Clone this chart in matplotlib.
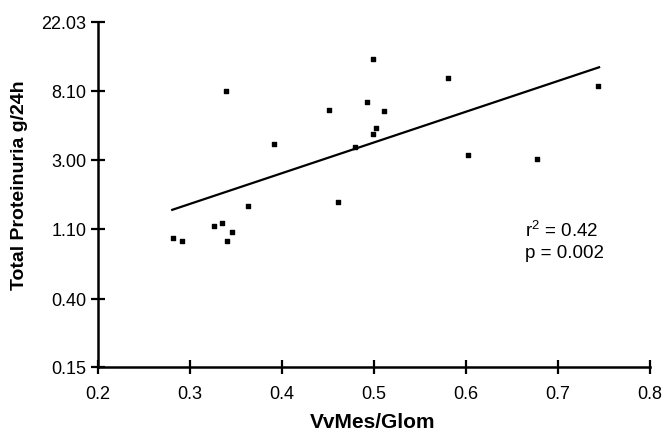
import matplotlib
matplotlib.use("Agg")
import matplotlib.pyplot as plt
from matplotlib.ticker import NullLocator

# ---------------------------------------------------------------------------
# Data
# ---------------------------------------------------------------------------
vv_mes = [0.282, 0.292, 0.326, 0.335, 0.341, 0.346, 0.363, 0.339, 0.392, 0.451,
          0.461, 0.480, 0.493, 0.499, 0.499, 0.503, 0.511, 0.581, 0.603, 0.678,
          0.744]
proteinuria = [0.97, 0.92, 1.14, 1.19, 0.93, 1.05, 1.54, 8.12, 3.76, 6.14,
               1.63, 3.61, 6.93, 12.85, 4.36, 4.74, 6.08, 9.76, 3.21, 3.02,
               8.66]
# regression line end points
fit_x = [0.281, 0.745]
fit_y = [1.45, 11.4]

y_ticks = [0.15, 0.40, 1.10, 3.00, 8.10, 22.03]
y_labels = ["0.15", "0.40", "1.10", "3.00", "8.10", "22.03"]
x_ticks = [0.2, 0.3, 0.4, 0.5, 0.6, 0.7, 0.8]
x_labels = ["0.2", "0.3", "0.4", "0.5", "0.6", "0.7", "0.8"]

plt.rcParams["font.family"] = ["Liberation Sans", "DejaVu Sans"]

fig = plt.figure(figsize=(6.66, 4.31), dpi=100)
ax = fig.add_axes([0.1467, 0.1469, 0.8288, 0.8004])

ax.plot(fit_x, fit_y, color="black", linewidth=1.6, zorder=2)
ax.scatter(vv_mes, proteinuria, marker="s", s=12, color="black", zorder=3)

ax.set_yscale("log")
ax.set_xlim(0.2, 0.8)
ax.set_ylim(0.15, 22.03)
ax.yaxis.set_minor_locator(NullLocator())
ax.set_yticks(y_ticks)
ax.set_yticklabels(y_labels)
ax.set_xticks(x_ticks)
ax.set_xticklabels(x_labels)

for side in ["top", "right"]:
    ax.spines[side].set_visible(False)
for side in ["left", "bottom"]:
    ax.spines[side].set_linewidth(1.8)
    ax.spines[side].set_color("black")

ax.tick_params(axis="both", direction="inout", length=10, width=1.6,
               labelsize=13, colors="black")
ax.tick_params(axis="x", pad=8)
ax.tick_params(axis="y", pad=3)

ax.set_xlabel("VvMes/Glom", fontsize=15, fontweight="bold")
ax.xaxis.set_label_coords(0.4987, -0.132)
ax.set_ylabel("Total Proteinuria g/24h", fontsize=14, fontweight="bold")
ax.yaxis.set_label_coords(-0.1257, 0.5296)

ax.text(0.7736, 0.3797, r"r$\mathregular{^2}$ = 0.42", transform=ax.transAxes,
        fontsize=13.5, va="baseline")
ax.text(0.7736, 0.318, "p = 0.002", transform=ax.transAxes,
        fontsize=13.5, va="baseline")

plt.savefig("out.png", dpi=100)
plt.close(fig)
